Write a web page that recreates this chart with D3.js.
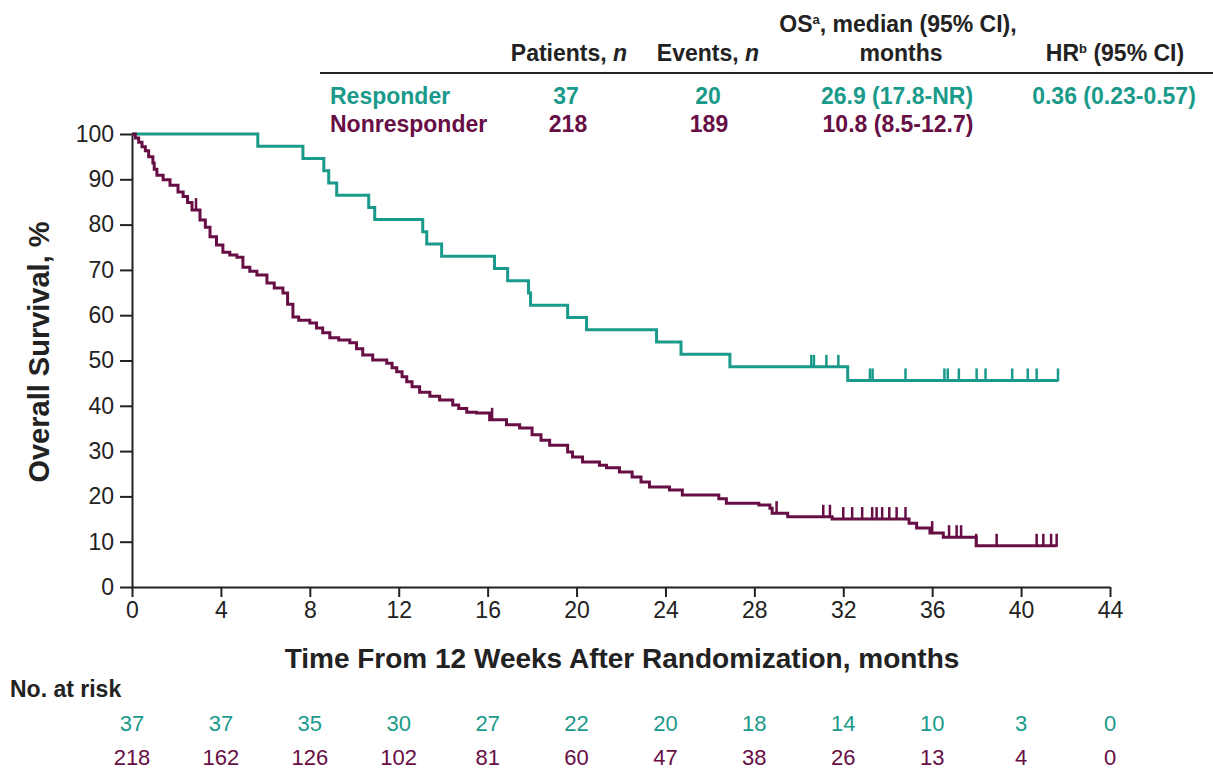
<!DOCTYPE html>
<html>
<head>
<meta charset="utf-8">
<script src="https://cdn.jsdelivr.net/npm/d3@7"></script>
<style>
body{margin:0;background:#fff}
text{font-family:"Liberation Sans",Arial,sans-serif}
</style>
</head>
<body>
<svg id="chart"></svg>
<script>
// responder curve (months, % alive)
var respTimes = [0,5.66,7.69,8.63,8.85,9.21,10.65,10.92,13.08,13.26,13.93,16.31,16.9,17.84,17.93,19.6,20.45,23.6,24.7,26.9,32.2]
var respSurv  = [100,97.3,94.6,91.9,89.2,86.5,83.8,81.1,78.4,75.7,73.0,70.3,67.6,64.9,62.2,59.5,56.8,54.1,51.4,48.6,45.6]
var respEnd = 41.66
var respCensor = [30.56,30.68,31.24,31.78,33.2,33.32,34.8,36.55,36.7,37.2,38.0,38.4,39.6,40.3,40.7,41.66]

// nonresponder curve
var nonTimes = [0,0.15,0.3,0.45,0.6,0.75,0.94,1.0,1.12,1.4,1.71,2.07,2.3,2.5,2.7,3.06,3.3,3.51,3.8,4.09,4.4,4.72,4.99,5.3,5.62,6.07,6.4,6.79,7.0,7.24,7.5,8.0,8.3,8.58,8.9,9.3,9.8,10.1,10.38,10.83,11.46,11.7,11.91,12.15,12.36,12.6,12.94,13.4,13.84,14.43,14.7,15.06,15.5,16.09,16.85,17.44,18.0,18.4,18.79,19.6,19.82,20.27,21.03,21.35,21.93,22.5,22.9,23.28,24.18,24.76,26.4,26.74,28.2,28.7,28.8,29.5,31.5,34.96,35.3,35.9,36.5,37.98]
var nonSurv  = [100,99.1,98.2,97.2,96.3,95.0,93.6,92.2,90.9,89.9,88.7,87.2,86.2,84.9,83.2,81.0,79.4,77.3,75.5,73.9,73.3,72.8,70.6,69.7,68.9,67.1,66.0,64.9,62.4,59.6,58.9,58.3,57.2,56.1,55.0,54.5,53.9,52.6,51.2,50.1,49.4,48.4,47.5,46.4,45.3,44.2,43.0,42.1,41.3,40.2,39.4,38.6,38.4,36.9,35.8,35.1,33.6,32.4,31.3,29.8,28.7,27.6,26.9,26.3,25.4,24.3,23.2,22.1,21.4,20.3,19.5,18.5,18.1,17.4,16.3,15.5,15.0,14.1,13.0,11.9,11.0,9.1]
var nonEnd = 41.6
var nonCensor = [2.88,16.2,29.0,31.1,31.4,32.0,32.4,32.85,33.3,33.5,33.75,34.07,34.4,34.8,36.0,36.76,37.1,37.3,37.98,38.9,40.7,41.0,41.35,41.6]

var xTicks = [0,4,8,12,16,20,24,28,32,36,40,44]
var yTicks = [0,10,20,30,40,50,60,70,80,90,100]
var riskResp = [37,37,35,30,27,22,20,18,14,10,3,0]
var riskNon  = [218,162,126,102,81,60,47,38,26,13,4,0]

var teal = "#1a9a8a"
var plum = "#670e45"
var ink = "#222"

var screen = {width:1213, height:772}
var svg = d3.select("#chart").attr("width",screen.width).attr("height",screen.height)

var xscale = d3.scaleLinear().domain([0,44]).range([132,1110])
var yscale = d3.scaleLinear().domain([0,100]).range([587,134])

// axes
var xAxis = svg.append("g").attr("transform","translate(0,587)")
  .call(d3.axisBottom(xscale).tickValues(xTicks).tickSize(10).tickSizeOuter(0).tickPadding(5))
var yAxis = svg.append("g").attr("transform","translate(132,0)")
  .call(d3.axisLeft(yscale).tickValues(yTicks).tickSize(12).tickSizeOuter(0).tickPadding(6))
;[xAxis,yAxis].forEach(function(a){
  a.selectAll("path,line").attr("stroke",ink).attr("stroke-width",2)
  a.selectAll("text").attr("fill",ink).style("font-size","23px")
})

svg.append("text").attr("transform","translate(49,352) rotate(-90)")
  .attr("text-anchor","middle").attr("fill",ink)
  .style("font-size","29px").style("font-weight","bold")
  .text("Overall Survival, %")
svg.append("text").attr("x",622).attr("y",668).attr("text-anchor","middle").attr("fill",ink)
  .style("font-size","28px").style("font-weight","bold")
  .text("Time From 12 Weeks After Randomization, months")

// KM curves
var drawCurve = function(times,surv,end,censor,color)
{
  var pts = times.map(function(t,i){return [t,surv[i]]})
  pts.push([end,surv[surv.length-1]])
  var line = d3.line().x(function(d){return xscale(d[0])}).y(function(d){return yscale(d[1])}).curve(d3.curveStepAfter)
  svg.append("path").attr("d",line(pts)).attr("fill","none").attr("stroke",color).attr("stroke-width",3)
  var level = function(t){
    var i = d3.bisectRight(times,t)-1
    return surv[Math.max(i,0)]
  }
  svg.selectAll(null).data(censor).enter().append("line")
    .attr("x1",function(d){return xscale(d)}).attr("x2",function(d){return xscale(d)})
    .attr("y1",function(d){return yscale(level(d))+1}).attr("y2",function(d){return yscale(level(d))-12})
    .attr("stroke",color).attr("stroke-width",2.5)
}
drawCurve(respTimes,respSurv,respEnd,respCensor,teal)
drawCurve(nonTimes,nonSurv,nonEnd,nonCensor,plum)

// header table
var hdr = function(x,y,str,color,anchor){
  return svg.append("text").attr("x",x).attr("y",y).attr("text-anchor",anchor||"middle")
    .attr("fill",color).style("font-size","23px").style("font-weight","bold").text(str)
}
var t1 = hdr(569,61,"Patients, ",ink); t1.append("tspan").style("font-style","italic").text("n")
var t2 = hdr(708,61,"Events, ",ink); t2.append("tspan").style("font-style","italic").text("n")
var t3 = hdr(898,32,"OS",ink); t3.append("tspan").attr("dy",-8).style("font-size","13px").text("a")
t3.append("tspan").attr("dy",8).text(", median (95% CI),")
hdr(901,61,"months",ink)
var t4 = hdr(1115,61,"HR",ink); t4.append("tspan").attr("dy",-8).style("font-size","13px").text("b")
t4.append("tspan").attr("dy",8).text(" (95% CI)")
svg.append("line").attr("x1",320).attr("x2",1213).attr("y1",73).attr("y2",73).attr("stroke",ink).attr("stroke-width",2)

hdr(330,104,"Responder",teal,"start")
hdr(566,104,"37",teal)
hdr(708,104,"20",teal)
hdr(897,104,"26.9 (17.8-NR)",teal)
hdr(1114,104,"0.36 (0.23-0.57)",teal)
hdr(330,132,"Nonresponder",plum,"start")
hdr(568,132,"218",plum)
hdr(709,132,"189",plum)
hdr(898,132,"10.8 (8.5-12.7)",plum)

// number at risk
svg.append("text").attr("x",10).attr("y",697).attr("fill",ink)
  .style("font-size","23px").style("font-weight","bold").text("No. at risk")
var riskRow = function(vals,y,color){
  svg.selectAll(null).data(vals).enter().append("text")
    .attr("x",function(d,i){return xscale(xTicks[i])}).attr("y",y)
    .attr("text-anchor","middle").attr("fill",color).style("font-size","22px")
    .text(function(d){return d})
}
riskRow(riskResp,731,teal)
riskRow(riskNon,765,plum)
</script>
</body>
</html>
